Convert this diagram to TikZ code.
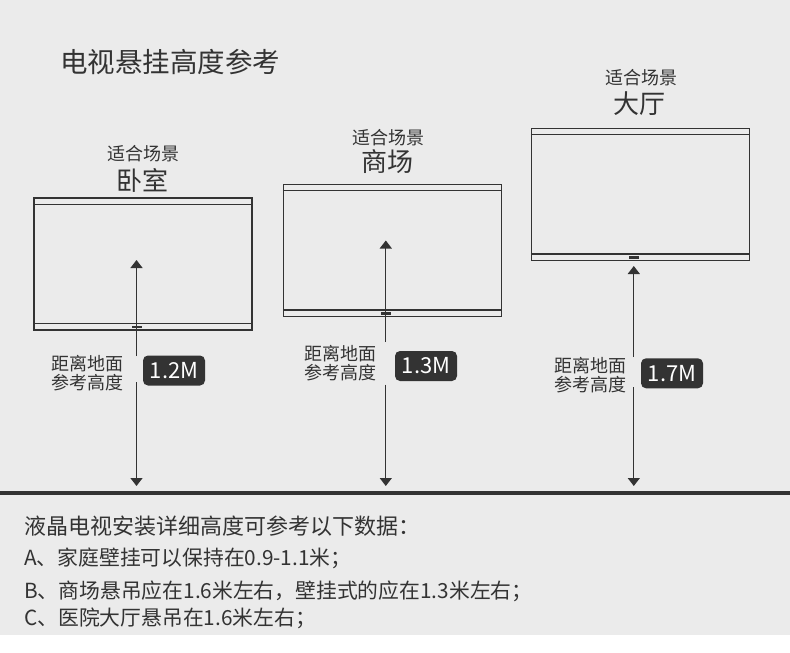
\documentclass[tikz,border=0pt]{standalone}
\usepackage{fontspec}
\setmainfont{Noto Sans CJK SC}
\usetikzlibrary{arrows.meta}
\definecolor{bg}{HTML}{EBEBEB}
\definecolor{ink}{HTML}{333333}
\definecolor{txt}{HTML}{333333}
\begin{document}
\begin{tikzpicture}[x=1pt,y=-1pt,
  tvbox/.style={draw=ink,line width=1.3pt,minimum width=218pt,minimum height=132pt,inner sep=0pt},
  tvstrip/.style={draw=ink,line width=1.3pt},
  tvmark/.style={fill=ink,draw=none,minimum width=10pt,minimum height=2.8pt,inner sep=0pt},
  hgt/.style={draw=ink,line width=1.3pt,-{Triangle[width=12pt,length=8pt]}},
  lbl/.style={text=txt,inner sep=0pt,align=center,font=\fontsize{18}{19}\selectfont},
  scene/.style={text=txt,inner sep=0pt,font=\fontsize{18}{20}\selectfont},
  room/.style={text=txt,inner sep=0pt,font=\fontsize{26}{28}\selectfont},
  mbox/.style={fill=ink,text=white,rounded corners=5pt,minimum width=62pt,minimum height=30pt,inner sep=0pt,font=\fontsize{22}{24}\selectfont},
  para/.style={text=txt,inner sep=0pt,anchor=west},
]
\useasboundingbox (0,0) rectangle (790,653);
\fill[white] (0,0) rectangle (790,653);
\fill[bg] (0,0) rectangle (790,635);

% title
\node[para,font=\fontsize{27.5}{30}\selectfont] (title) at (60,62.5) {电视悬挂高度参考};

% TVs
\foreach \i/\cx/\cy in {1/143/264, 2/392.4/250.2, 3/640.5/194.3}{
  \node[tvbox] (tv\i) at (\cx,\cy) {};
  \draw[tvstrip] ([yshift=-7pt]tv\i.north west) -- ([yshift=-7pt]tv\i.north east);
  \draw[tvstrip] ([yshift=7pt]tv\i.south west) -- ([yshift=7pt]tv\i.south east);
  \node[tvmark] (mk\i) at ([xshift=-6.5pt,yshift=3.6pt]tv\i.south) {};
}

% scene titles
\node[scene] (s1) at (143.5,154) {适合场景};
\node[room]  (r1) at (142.5,180) {卧室};
\node[scene] (s2) at (388.5,137.5) {适合场景};
\node[room]  (r2) at (387.5,161.5) {商场};
\node[scene] (s3) at (641.5,78) {适合场景};
\node[room]  (r3) at (639.5,103.5) {大厅};

% height labels
\node[lbl] (h1) at (87.5,373) {距离地面\\参考高度};
\node[mbox] (m1) at (174,370.5) {1.2M};
\node[lbl] (h2) at (340,363.5) {距离地面\\参考高度};
\node[mbox] (m2) at (426,366) {1.3M};
\node[lbl] (h3) at (590.5,375) {距离地面\\参考高度};
\node[mbox] (m3) at (672,373.3) {1.7M};

% arrows
\coordinate (u1) at (136.5,356);   \coordinate (t1) at (136.5,260);
\coordinate (d1) at (136.5,382);   \coordinate (g1) at (136.5,486);
\coordinate (u2) at (385.8,342);   \coordinate (t2) at (385.8,240.5);
\coordinate (d2) at (385.8,384.5); \coordinate (g2) at (385.8,486);
\coordinate (u3) at (633.8,357);   \coordinate (t3) at (633.8,266);
\coordinate (d3) at (633.8,387);   \coordinate (g3) at (633.8,486);
\foreach \i in {1,2,3}{
  \draw[hgt] (u\i) -- (t\i);
  \draw[hgt] (d\i) -- (g\i);
}

% ground line
\coordinate (gl) at (0,492.8); \coordinate (gr) at (790,492.8);
\draw[ink,line width=4.3pt] (gl) -- (gr);

% notes
\node[para,font=\fontsize{22}{24}\selectfont] (n0) at (24,526) {液晶电视安装详细高度可参考以下数据：};
\node[para,font=\fontsize{20.8}{23}\selectfont] (na) at (24,558.5) {A、家庭壁挂可以保持在0.9-1.1米；};
\node[para,font=\fontsize{20.8}{23}\selectfont] (nb) at (24,591.5) {B、商场悬吊应在1.6米左右，壁挂式的应在1.3米左右；};
\node[para,font=\fontsize{20.8}{23}\selectfont] (nc) at (24,618.5) {C、医院大厅悬吊在1.6米左右；};
\end{tikzpicture}
\end{document}
